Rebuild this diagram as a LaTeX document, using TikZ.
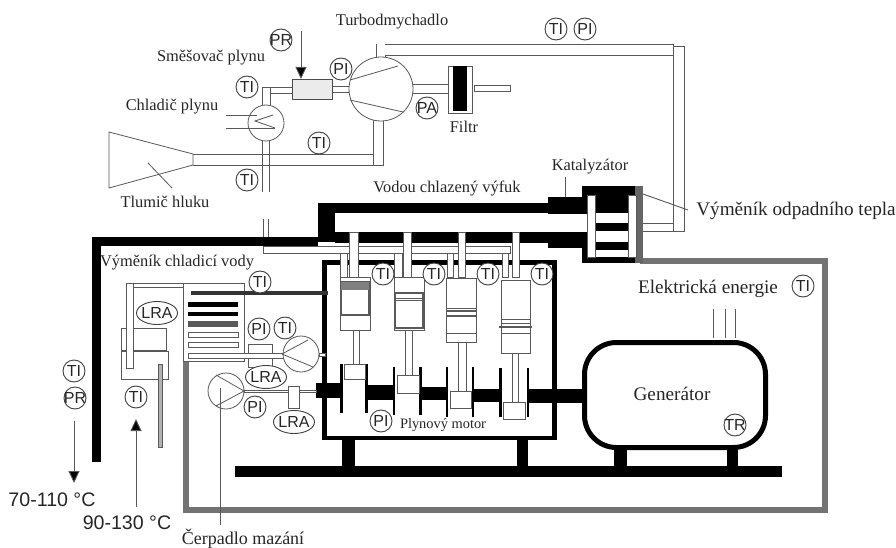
\documentclass[tikz,border=0pt]{standalone}
\usepackage{fontspec}
\setmainfont{Liberation Serif}
\setsansfont{Liberation Sans}
\usetikzlibrary{shapes.geometric,arrows.meta}
\tikzset{
  lab/.style={inner sep=0pt,text=black!85,font=\fontsize{16.4}{18}\selectfont},
  labbig/.style={lab,font=\fontsize{19.2}{21}\selectfont},
  labtemp/.style={inner sep=0pt,text=black!85,font=\sffamily\fontsize{19.6}{21}\selectfont},
  inst/.style={circle,draw=black!75,line width=0.9pt,fill=white,minimum size=22pt,inner sep=-2pt,text=black!85,font=\sffamily\fontsize{16}{17}\selectfont},
  instlong/.style={ellipse,draw=black!75,line width=0.9pt,fill=white,minimum width=41pt,minimum height=23pt,inner sep=-2pt,text=black!85,font=\sffamily\fontsize{16}{17}\selectfont},
  pipe/.style={draw=black!65,line width=0.8pt,fill=white},
  wire/.style={draw=black!65,line width=0.8pt},
  leader/.style={draw=black!65,line width=0.9pt},
  flow/.style={draw=black!65,line width=0.9pt,-{Triangle[length=12pt,width=11pt,fill=black]}},
  wall/.style={draw=black!55,line width=6pt},
  frame/.style={draw=black,line width=4.5pt}
}
\begin{document}
\begin{tikzpicture}[x=1pt,y=-1pt]
\useasboundingbox (0,0) rectangle (896,548);
\fill[white] (0,0) rectangle (896,548);
\draw[wall] (186,360) -- (186,510) -- (825,510) -- (825,261) -- (640,261);
\draw[pipe] (376,44) rectangle (385,62);
\draw[pipe] (376,44) rectangle (673,55);
\fill[white] (376.5,44.5) rectangle (384.5,56);
\draw[wire] (385,55) -- (385,62);
\draw[pipe] (673,46) rectangle (684,231);
\draw[pipe] (636,223) rectangle (673,231);
\draw[pipe] (373,116) rectangle (383,165);
\draw[wire] (193,154) -- (373,154);
\draw[wire] (193,165) -- (373,165);
\draw[wire,fill=white] (109,132) -- (193,154) -- (193,165) -- (109,188) -- cycle;
\draw[wire] (148,163) -- (172,188);
\draw[wire] (262,139) -- (262,192);
\draw[wire] (269,139) -- (269,192);
\draw[wire] (263,219) -- (263,247);
\draw[wire] (268,219) -- (268,247);
\draw[pipe] (262,87) rectangle (270,106);
\draw[wire] (262,87) -- (295,87);
\draw[wire] (270,93) -- (295,93);
\draw[pipe] (330,86) rectangle (352,92);
\draw[pipe] (400,84) rectangle (448,93);
\draw[pipe] (474,85) rectangle (510,91);
\node[circle,pipe,minimum size=64pt,inner sep=0pt] (turbo) at (381,89) {};
\draw[wire] (350,80) -- (398,66);
\draw[wire] (350,100) -- (403,112);
\node[circle,pipe,minimum size=36pt,inner sep=0pt] (cooler) at (266,123) {};
\draw[wire] (226,115) -- (257,115);
\draw[wire] (226,128) -- (275,128);
\draw[wire] (273,115) -- (255,121) -- (275,128);
\node[rectangle,draw=black!70,line width=0.9pt,fill=black!8,minimum width=40pt,minimum height=20pt] (mixer) at (312,89) {};
\draw[pipe] (448,66) rectangle (472,113);
\fill[black] (453,66) rectangle (467,111);
\coordinate (prtop) at (301,31);
\coordinate (mixertop) at (301,79);
\draw[flow] (prtop) -- (mixertop);
\fill[black] (318,203) rectangle (548,213);
\fill[black] (318,203) rectangle (335,242);
\fill[black] (335,232) rectangle (548,243);
\fill[black] (548,197) rectangle (582,214);
\fill[black] (548,232) rectangle (582,248);
\fill[black] (92,237) rectangle (318,246);
\fill[black] (92,237) rectangle (101,462);
\fill[black] (582,186) rectangle (635,263);
\fill[black!60] (635,186) rectangle (643,263);
\fill[white] (587,195) rectangle (595,257);
\fill[white] (628,195) rectangle (636,257);
\fill[white] (595,213) rectangle (628,223);
\fill[white] (595,231) rectangle (628,242);
\fill[white] (595,250) rectangle (628,257);
\fill[white] (582,214) rectangle (587,232);
\draw[wire] (587,195) rectangle (595,257);
\draw[wire] (628,195) rectangle (636,257);
\fill[black] (235,466) rectangle (782,477);
\fill[black] (342,440) rectangle (355,466);
\fill[black] (517,440) rectangle (528,466);
\fill[black] (614,450) rectangle (627,466);
\fill[black] (727,450) rectangle (738,466);
\draw[frame] (324.5,262.5) rectangle (554.5,438);
\draw[pipe] (263,246) rectangle (510,253);
\draw[pipe] (340,253) rectangle (347,277);
\draw[pipe] (394,253) rectangle (402,277);
\draw[pipe] (447,253) rectangle (453,277);
\draw[pipe] (502,253) rectangle (508,277);
\draw[pipe] (349,232) rectangle (358,277);
\draw[pipe] (403,232) rectangle (411,277);
\draw[pipe] (458,232) rectangle (465,277);
\draw[pipe] (512,232) rectangle (519,277);
\fill[black] (316,383) rectangle (341,398);
\fill[black] (368,385) rectangle (393,400);
\fill[black] (422,387) rectangle (447,400);
\fill[black] (474,389) rectangle (500,402);
\fill[black] (529,389) rectangle (585,403);
\fill[black] (340,364) rectangle (343,413);
\fill[black] (365,364) rectangle (368,413);
\fill[black] (393,367) rectangle (395,415);
\fill[black] (419,367) rectangle (422,415);
\fill[black] (446,367) rectangle (448,417);
\fill[black] (472,367) rectangle (474,417);
\fill[black] (499,368) rectangle (502,417);
\fill[black] (527,368) rectangle (529,417);
\draw[pipe] (353,315) rectangle (359,364);
\draw[pipe] (405,330) rectangle (412,375);
\draw[pipe] (458,342) rectangle (466,391);
\draw[pipe] (512,353) rectangle (518,402);
\draw[pipe] (344,364) rectangle (365,379);
\draw[pipe] (397,375) rectangle (419,393);
\draw[pipe] (450,391) rectangle (471,408);
\draw[pipe] (503,402) rectangle (525,419);
\node[rectangle,pipe,minimum width=30pt,minimum height=53pt,inner sep=0pt] (cyla) at (355,303.5) {};
\node[rectangle,pipe,minimum width=30pt,minimum height=53pt,inner sep=0pt] (cylb) at (409,303.5) {};
\node[rectangle,pipe,minimum width=30pt,minimum height=64pt,inner sep=0pt] (cylc) at (461,310) {};
\node[rectangle,pipe,minimum width=29pt,minimum height=73pt,inner sep=0pt] (cyld) at (515.5,316.5) {};
\draw[wire,line width=1.1pt] (341,282) rectangle (369,315);
\fill[black!50] (341,282) rectangle (369,290);
\draw[wire,line width=1.3pt] (395,293) rectangle (423,328);
\draw[wire] (395,298) -- (423,298);
\draw[wire] (395,300) -- (423,300);
\draw[wire] (446,308) rectangle (476,333);
\draw[wire,line width=1.2pt] (446,311) -- (476,311);
\draw[wire,line width=1.2pt] (446,316) -- (476,316);
\draw[wire] (501,319) rectangle (530,333);
\draw[wire,line width=1.2pt] (499,327) -- (532,327);
\draw[wire] (501,323) -- (530,323);
\node[rectangle,draw=black,line width=5pt,rounded corners=32pt,fill=white,minimum width=181pt,minimum height=105pt] (gen) at (675,395) {};
\coordinate (ela) at (713,309);
\coordinate (elb) at (725,309);
\coordinate (elc) at (735,309);
\coordinate (elae) at (713,338);
\coordinate (elbe) at (725,338);
\coordinate (elce) at (735,338);
\draw[wire] (ela) -- (elae);
\draw[wire] (elb) -- (elbe);
\draw[wire] (elc) -- (elce);
\draw[wire,fill=white] (121,328) rectangle (166,350);
\draw[wire,fill=white] (121,351) rectangle (168,379);
\draw[pipe] (126,283) rectangle (183,287);
\draw[pipe] (126,283) rectangle (133,368);
\fill[white] (126.5,283.5) rectangle (132.5,287);
\draw[pipe,fill=black!30] (158,364) rectangle (162,447);
\draw[wire,fill=white] (183,283) rectangle (244,361);
\fill[black!80] (191,291) rectangle (328,295);
\fill[black] (188,302) rectangle (238,307);
\fill[black] (188,312) rectangle (238,316);
\fill[black!65] (188,321) rectangle (238,327);
\draw[wire] (188,332) rectangle (238,337);
\draw[wire] (188,342) rectangle (238,347);
\draw[wire,fill=white] (248,344) rectangle (272,367);
\draw[pipe] (188,353) rectangle (284,358);
\node[circle,pipe,minimum size=36pt,inner sep=0pt] (pumpa) at (301,354) {};
\draw[wire] (282,354) -- (308,340);
\draw[wire] (282,354) -- (313,367);
\draw[pipe] (319,353) rectangle (325,356);
\draw[pipe] (244,390) rectangle (316,392);
\draw[pipe] (288,386) rectangle (299,408);
\node[circle,pipe,minimum size=36pt,inner sep=0pt] (pumpb) at (226,391) {};
\draw[wire] (244,391) -- (216,375);
\draw[wire] (244,391) -- (216,406);
\node[inst] (pr) at (281,40) {PR};
\node[inst] (pia) at (341,69) {PI};
\node[inst] (tia) at (247,87) {TI};
\node[inst] (pa) at (427,108) {PA};
\node[inst] (tib) at (319,143) {TI};
\node[inst] (tic) at (247,180) {TI};
\node[inst] (tid) at (556,29) {TI};
\node[inst] (pib) at (585,29) {PI};
\node[inst] (tie) at (260,282) {TI};
\node[inst] (pic) at (259,329) {PI};
\node[inst] (tif) at (285,328) {TI};
\node[inst] (pid) at (255,407) {PI};
\node[inst] (tig) at (136,397) {TI};
\node[inst] (tih) at (74,371) {TI};
\node[inst] (prb) at (75,398) {PR};
\node[inst] (tii) at (383,274) {TI};
\node[inst] (tij) at (434,274) {TI};
\node[inst] (tik) at (488,274) {TI};
\node[inst] (til) at (542,274) {TI};
\node[inst] (pie) at (381,421) {PI};
\node[inst] (tr) at (735,425) {TR};
\node[inst] (tim) at (803,286) {TI};
\node[instlong] (lraa) at (157,313) {LRA};
\node[instlong] (lrab) at (266,377) {LRA};
\node[instlong] (lrac) at (294,422) {LRA};
\node[lab] (turbolab) at (392,22) {Turbodmychadlo};
\node[lab] (mixerlab) at (211,58) {Směšovač plynu};
\node[lab] (coolerlab) at (172,107) {Chladič plynu};
\node[lab] (silencerlab) at (165,202) {Tlumič hluku};
\node[lab] (filterlab) at (464,127) {Filtr};
\node[lab] (exhaustlab) at (447,188) {Vodou chlazený výfuk};
\node[lab] (catlab) at (590,167) {Katalyzátor};
\node[labbig] (wastelab) at (796,211) {Výměník odpadního tepla};
\node[lab] (waterlab) at (177,263) {Výměník chladicí vody};
\node[lab,font=\fontsize{14.4}{16}\selectfont] (motorlab) at (443,425) {Plynový motor};
\node[labbig] (genlab) at (672,394) {Generátor};
\node[labbig] (energylab) at (708,289) {Elektrická energie};
\node[labbig,font=\fontsize{18}{20}\selectfont] (pumplab) at (243,538.5) {Čerpadlo mazání};
\node[labtemp] (hotlab) at (52,500) {70-110 °C};
\node[labtemp] (warmlab) at (127,523) {90-130 °C};
\coordinate (catend) at (565,197);
\coordinate (catstart) at (565,177);
\draw[leader] (catend) -- (catstart);
\coordinate (wastestart) at (643,194);
\coordinate (wasteend) at (688,210);
\draw[leader] (wastestart) -- (wasteend);
\coordinate (pumpline) at (220,388);
\coordinate (pumplineend) at (220,525);
\draw[leader] (pumpline) -- (pumplineend);
\coordinate (hottop) at (74,421);
\coordinate (hotend) at (74,483);
\draw[flow] (hottop) -- (hotend);
\coordinate (warmtop) at (136,507);
\coordinate (warmend) at (136,419);
\draw[flow] (warmtop) -- (warmend);
\end{tikzpicture}
\end{document}
